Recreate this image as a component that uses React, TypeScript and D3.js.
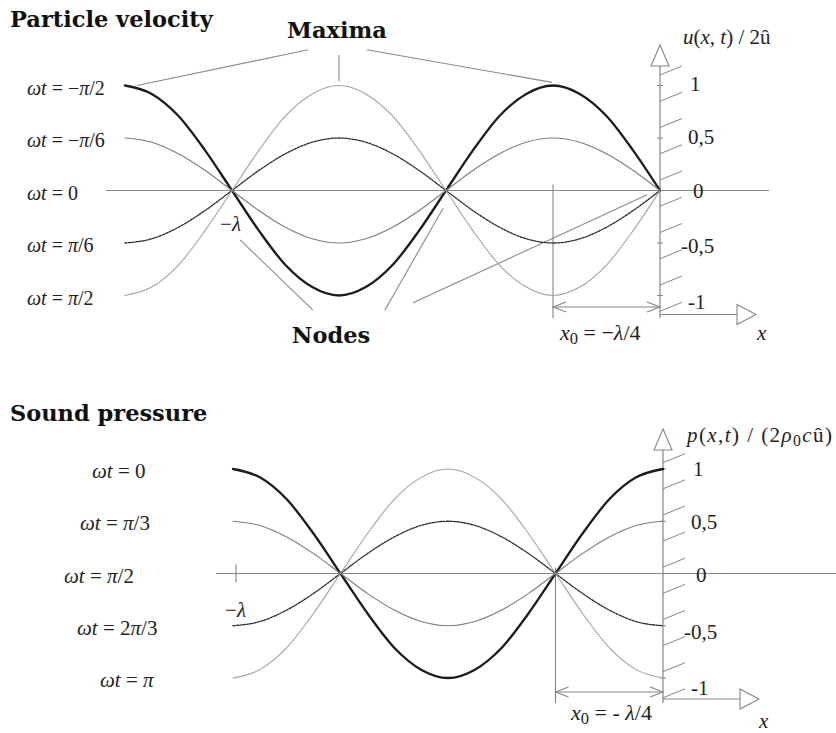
import React from "react";
import * as d3 from "d3";

const W = 836;
const H = 733;

// Particle velocity u(x,t)/2û, sampled every λ/16 from x = −5λ/4 to the wall at x = 0
const velocityX = [
  -1.25, -1.1875, -1.125, -1.0625, -1, -0.9375, -0.875, -0.8125, -0.75, -0.6875, -0.625,
  -0.5625, -0.5, -0.4375, -0.375, -0.3125, -0.25, -0.1875, -0.125, -0.0625, 0,
];
const velocityNegHalfPi = [
  1, 0.92, 0.71, 0.38, 0, -0.38, -0.71, -0.92, -1, -0.92, -0.71, -0.38, 0, 0.38, 0.71, 0.92, 1, 0.92, 0.71, 0.38, 0,
];
const velocityNegSixthPi = [
  0.5, 0.46, 0.35, 0.19, 0, -0.19, -0.35, -0.46, -0.5, -0.46, -0.35, -0.19, 0, 0.19, 0.35, 0.46, 0.5, 0.46, 0.35, 0.19, 0,
];
const velocityZero = [0, 0, 0, 0, 0, 0, 0, 0, 0, 0, 0, 0, 0, 0, 0, 0, 0, 0, 0, 0, 0];
const velocitySixthPi = [
  -0.5, -0.46, -0.35, -0.19, 0, 0.19, 0.35, 0.46, 0.5, 0.46, 0.35, 0.19, 0, -0.19, -0.35, -0.46, -0.5, -0.46, -0.35, -0.19, 0,
];
const velocityHalfPi = [
  -1, -0.92, -0.71, -0.38, 0, 0.38, 0.71, 0.92, 1, 0.92, 0.71, 0.38, 0, -0.38, -0.71, -0.92, -1, -0.92, -0.71, -0.38, 0,
];
const velocityPhases = ["−π/2", "−π/6", "0", "π/6", "π/2"];

// Sound pressure p(x,t)/(2ρ0cû), sampled every λ/16 from x = −λ to x = 0
const pressureX = [
  -1, -0.9375, -0.875, -0.8125, -0.75, -0.6875, -0.625, -0.5625, -0.5, -0.4375, -0.375, -0.3125, -0.25, -0.1875, -0.125,
  -0.0625, 0,
];
const pressureZero = [1, 0.92, 0.71, 0.38, 0, -0.38, -0.71, -0.92, -1, -0.92, -0.71, -0.38, 0, 0.38, 0.71, 0.92, 1];
const pressureThirdPi = [0.5, 0.46, 0.35, 0.19, 0, -0.19, -0.35, -0.46, -0.5, -0.46, -0.35, -0.19, 0, 0.19, 0.35, 0.46, 0.5];
const pressureHalfPi = [0, 0, 0, 0, 0, 0, 0, 0, 0, 0, 0, 0, 0, 0, 0, 0, 0];
const pressureTwoThirdPi = [-0.5, -0.46, -0.35, -0.19, 0, 0.19, 0.35, 0.46, 0.5, 0.46, 0.35, 0.19, 0, -0.19, -0.35, -0.46, -0.5];
const pressurePi = [-1, -0.92, -0.71, -0.38, 0, 0.38, 0.71, 0.92, 1, 0.92, 0.71, 0.38, 0, -0.38, -0.71, -0.92, -1];
const pressurePhases = ["0", "π/3", "π/2", "2π/3", "π"];

const tickValues = [1, 0.5, 0, -0.5, -1];
const tickLabels = ["1", "0,5", "0", "-0,5", "-1"];

// leader lines, in (x/λ, value) pairs: [x1, y1, x2, y2]
const maximaLeaders = [
  [-0.822, 1.34, -1.222, 1.0],
  [-0.75, 1.29, -0.75, 1.04],
  [-0.685, 1.34, -0.252, 1.03],
];
const nodesLeaders = [
  [-0.981, -0.47, -0.811, -1.14],
  [-0.643, -1.14, -0.507, -0.17],
  [-0.577, -1.07, -0.03, -0.04],
];

type Style = { stroke: string; width: number; dash?: string };
const curveStyles: Style[] = [
  { stroke: "#1c1c1c", width: 2.3 },
  { stroke: "#7c7c7c", width: 1.1 },
  { stroke: "#8a8a8a", width: 1.2 },
  { stroke: "#2c2c2c", width: 1.3, dash: "2.2 1.3" },
  { stroke: "#a2a2a2", width: 1.1 },
];

const SERIF = "'Liberation Serif', 'Times New Roman', serif";
const BOLD = "'DejaVu Serif', Georgia, serif";
const AXIS = "#858585";

// renders a formula with letters in italic, operators/digits upright, "_0" as a subscript
function MathText({
  text,
  x,
  y,
  size,
  anchor = "start",
  width,
}: {
  text: string;
  x: number;
  y: number;
  size: number;
  anchor?: string;
  width?: number;
}) {
  const parts: { s: string; it: boolean; sub?: boolean }[] = [];
  const chars = Array.from(text);
  for (let k = 0; k < chars.length; k++) {
    const ch = chars[k];
    if (ch === "_") {
      parts.push({ s: chars[k + 1], it: false, sub: true });
      k++;
      continue;
    }
    const it = /[a-zA-Zωπλρ]/.test(ch);
    const last = parts[parts.length - 1];
    if (last && !last.sub && last.it === it) last.s += ch;
    else parts.push({ s: ch, it });
  }
  const out: React.ReactNode[] = [];
  let shifted = false;
  parts.forEach((p, i) => {
    if (p.sub) {
      out.push(
        <tspan key={i} fontSize={size * 0.75} dy={size * 0.25}>
          {p.s}
        </tspan>
      );
      shifted = true;
    } else {
      out.push(
        <tspan key={i} fontStyle={p.it ? "italic" : "normal"} dy={shifted ? -size * 0.25 : undefined}>
          {p.s}
        </tspan>
      );
      shifted = false;
    }
  });
  return (
    <text
      x={x}
      y={y}
      fontFamily={SERIF}
      fontSize={size}
      fill="#222"
      textAnchor={anchor}
      dominantBaseline="central"
      style={{ whiteSpace: "pre" }}
      textLength={width}
      lengthAdjust={width ? "spacing" : undefined}
    >
      {out}
    </text>
  );
}

function DoubleArrow({ x1, x2, y }: { x1: number; x2: number; y: number }) {
  const h = 13;
  const w = 5;
  return (
    <g stroke={AXIS} strokeWidth={1.1} fill="none">
      <line x1={x1} x2={x2} y1={y} y2={y} />
      <polyline points={`${x1 + h},${y - w} ${x1},${y} ${x1 + h},${y + w}`} />
      <polyline points={`${x2 - h},${y - w} ${x2},${y} ${x2 - h},${y + w}`} />
    </g>
  );
}

type PanelProps = {
  xs: number[];
  series: number[][];
  phases: string[];
  x: d3.ScaleLinear<number, number>;
  y: d3.ScaleLinear<number, number>;
  labelY: d3.ScaleLinear<number, number>;
  axisLeft: number;
  axisRight: number;
  axisTop: number;
  axisBottom: number;
  xArrowY: number;
  dimY: number;
  tickX: number;
  phaseX: number[];
  phaseSize: number;
  yTitle: string;
  yTitleX: number;
  yTitleY: number;
  yTitleWidth?: number;
  x0Label: string;
  x0LabelX: number;
  x0LabelY: number;
  lambdaX: number;
  lambdaY: number;
  xLabelX: number;
  xLabelY: number;
  hatchStart: number;
  showLambdaTick: boolean;
};

function Panel(p: PanelProps) {
  const { x, y } = p;
  const ox = x(0);
  const oy = y(0);
  const line = d3
    .line<number>()
    .x((_, i) => x(p.xs[i]))
    .y((d) => y(d))
    .curve(d3.curveMonotoneX);
  const hatches = d3.range(0, 10).map((i) => y(p.hatchStart - 0.25 * i));
  const xq = x(-0.25);
  return (
    <g>
      {/* horizontal axis */}
      <line x1={p.axisLeft} x2={p.axisRight} y1={oy} y2={oy} stroke={AXIS} strokeWidth={1.2} />
      {/* vertical axis with hollow arrow */}
      <line x1={ox} x2={ox} y1={p.axisTop + 20} y2={p.axisBottom} stroke={AXIS} strokeWidth={1.2} />
      <polygon
        points={`${ox},${p.axisTop} ${ox - 9},${p.axisTop + 21} ${ox + 9},${p.axisTop + 21}`}
        fill="#fff"
        stroke={AXIS}
        strokeWidth={1.1}
      />
      {/* wall hatching */}
      {hatches.map((hy, i) => (
        <line key={i} x1={ox} y1={hy} x2={ox + 22} y2={hy - 9} stroke={AXIS} strokeWidth={1} />
      ))}
      {tickValues.map((v, i) => (
        <line key={"t" + i} x1={ox - 3} x2={ox + 3} y1={y(v)} y2={y(v)} stroke={AXIS} strokeWidth={1} />
      ))}
      {tickValues.map((v, i) => (
        <text
          key={"l" + i}
          x={p.tickX + (v === 0 ? 5 : v === -0.5 ? -7 : v === 1 ? 2 : 0)}
          y={p.labelY(v)}
          fontFamily={SERIF}
          fontSize={21}
          fill="#222"
          dominantBaseline="central"
        >
          {tickLabels[i]}
        </text>
      ))}
      {/* x arrow below the wall */}
      <line x1={ox} x2={ox + 77} y1={p.xArrowY} y2={p.xArrowY} stroke={AXIS} strokeWidth={1.1} />
      <polygon
        points={`${ox + 77},${p.xArrowY - 10} ${ox + 96},${p.xArrowY} ${ox + 77},${p.xArrowY + 10}`}
        fill="#fff"
        stroke={AXIS}
        strokeWidth={1.1}
      />
      <MathText text="x" x={p.xLabelX} y={p.xLabelY} size={21} />
      {/* x0 = −λ/4 dimension */}
      <line x1={xq} x2={xq} y1={oy - 6} y2={p.axisBottom} stroke={AXIS} strokeWidth={1.1} />
      <DoubleArrow x1={xq} x2={ox} y={p.dimY} />
      {p.showLambdaTick && (
        <line x1={x(-1) + 3} x2={x(-1) + 3} y1={oy - 9} y2={oy + 9} stroke={AXIS} strokeWidth={1.1} />
      )}
      <MathText text="−λ" x={p.lambdaX} y={p.lambdaY} size={21} anchor="end" />
      {/* curves */}
      {p.series.map((s, i) => (
        <path
          key={"c" + i}
          d={line(s) ?? ""}
          fill="none"
          stroke={curveStyles[i].stroke}
          strokeWidth={curveStyles[i].width}
          strokeDasharray={curveStyles[i].dash}
          strokeLinecap="round"
        />
      ))}
      {p.phases.map((ph, i) => (
        <MathText key={"p" + i} text={`ωt = ${ph}`} x={p.phaseX[i]} y={y(p.series[i][0]) + 2} size={p.phaseSize} />
      ))}
      <MathText text={p.yTitle} x={p.yTitleX} y={p.yTitleY} size={21} width={p.yTitleWidth} />
      <MathText text={p.x0Label} x={p.x0LabelX} y={p.x0LabelY} size={22} />
    </g>
  );
}

export default function App() {
  const xTop = d3.scaleLinear().domain([-1.25, 0]).range([125, 660]);
  const yTop = d3.scaleLinear().domain([-1, 1]).range([295.5, 85.5]);
  const labTop = d3.scaleLinear().domain([-1, 0, 1]).range([302, 190.5, 84]);

  const xBot = d3.scaleLinear().domain([-1, 0]).range([233, 663]);
  const yBot = d3.scaleLinear().domain([-1, 1]).range([678, 469]);
  const labBot = d3.scaleLinear().domain([-1, 0, 1]).range([688, 575, 469]);

  const leader = (l: number[], i: number) => (
    <line key={i} x1={xTop(l[0])} y1={yTop(l[1])} x2={xTop(l[2])} y2={yTop(l[3])} stroke="#8a8a8a" strokeWidth={1.1} />
  );

  return (
    <svg
      width={W}
      height={H}
      viewBox={`0 0 ${W} ${H}`}
      style={{ position: "absolute", left: 0, top: 0, background: "#fff" }}
    >
      <rect width={W} height={H} fill="#fff" />
      <text x={10} y={27} fontFamily={BOLD} fontWeight="bold" fontSize={22.5} fill="#111">
        Particle velocity
      </text>
      <text x={337} y={38} fontFamily={BOLD} fontWeight="bold" fontSize={22.5} fill="#111" textAnchor="middle">
        Maxima
      </text>
      <text x={331} y={343} fontFamily={BOLD} fontWeight="bold" fontSize={22.5} fill="#111" textAnchor="middle">
        Nodes
      </text>
      {maximaLeaders.map(leader)}
      {nodesLeaders.map(leader)}
      <Panel
        xs={velocityX}
        series={[velocityNegHalfPi, velocityNegSixthPi, velocityZero, velocitySixthPi, velocityHalfPi]}
        phases={velocityPhases}
        x={xTop}
        y={yTop}
        labelY={labTop}
        axisLeft={106}
        axisRight={769}
        axisTop={45}
        axisBottom={318}
        xArrowY={314.5}
        dimY={307}
        tickX={688}
        phaseX={[27, 27, 27, 27, 27]}
        phaseSize={20}
        yTitle="u(x, t) / 2û"
        yTitleX={683}
        yTitleY={37}
        x0Label="x_0 = −λ/4"
        x0LabelX={560}
        x0LabelY={332}
        lambdaX={241}
        lambdaY={224}
        xLabelX={757}
        xLabelY={333}
        hatchStart={1.1}
        showLambdaTick={false}
      />
      <text x={10} y={421} fontFamily={BOLD} fontWeight="bold" fontSize={22.5} fill="#111">
        Sound pressure
      </text>
      <Panel
        xs={pressureX}
        series={[pressureZero, pressureThirdPi, pressureHalfPi, pressureTwoThirdPi, pressurePi]}
        phases={pressurePhases}
        x={xBot}
        y={yBot}
        labelY={labBot}
        axisLeft={216}
        axisRight={836}
        axisTop={429}
        axisBottom={703}
        xArrowY={699}
        dimY={692}
        tickX={691}
        phaseX={[92, 80, 64, 77, 100]}
        phaseSize={21}
        yTitle="p(x,t) / (2ρ_0cû)"
        yTitleX={687}
        yTitleY={435}
        yTitleWidth={145}
        x0Label="x_0 = - λ/4"
        x0LabelX={571}
        x0LabelY={712}
        lambdaX={246}
        lambdaY={610}
        xLabelX={759}
        xLabelY={721}
        hatchStart={1.06}
        showLambdaTick={true}
      />
    </svg>
  );
}
